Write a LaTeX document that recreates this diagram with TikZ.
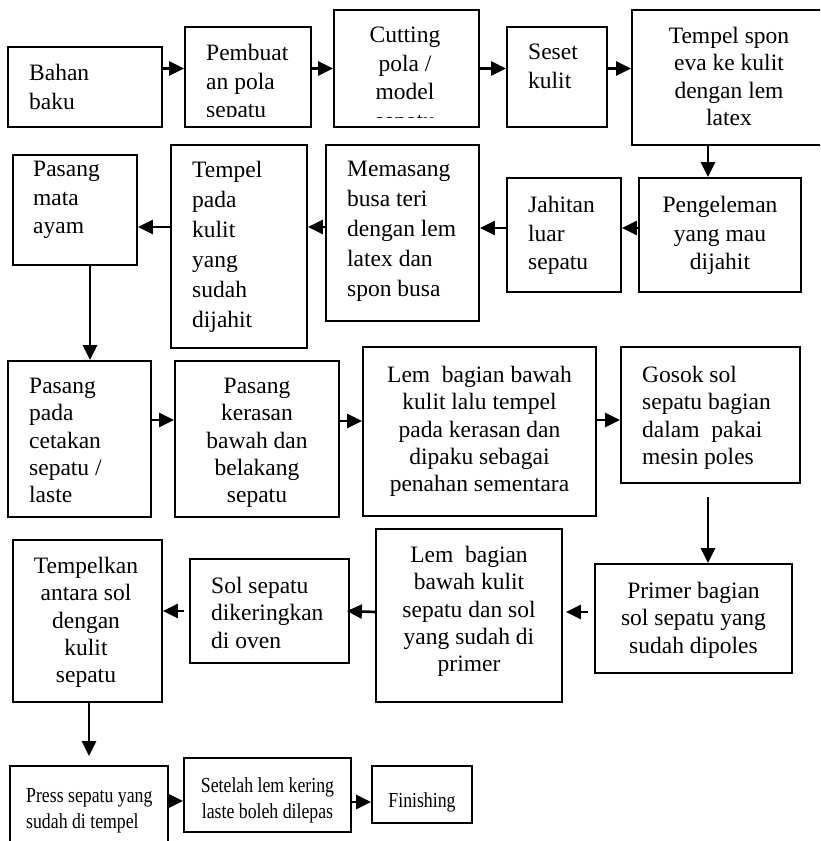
\documentclass[tikz,border=0pt]{standalone}
\usepackage{fontspec}
\setmainfont{Liberation Serif}
\newfontfamily\narrowserif[FakeStretch=0.83]{Liberation Serif}
\usetikzlibrary{arrows.meta}

\newcommand{\boxfont}{\fontsize{23.5}{28.5}\selectfont}
\newcommand{\wideline}{\fontsize{23.5}{30}\selectfont}
\newcommand{\tightline}{\fontsize{23.5}{27.3}\selectfont}
\newcommand{\narrowline}{\narrowserif\fontsize{21.4}{26.5}\selectfont}

\tikzset{
  stepbox/.style={draw, line width=1.8pt, inner sep=0pt},
  lefttext/.style={anchor=north west, align=left, inner sep=0pt, font=\boxfont},
  midtext/.style={anchor=north, align=center, inner sep=0pt, font=\boxfont},
  flow/.style={line width=2.6pt, -{Triangle[length=15pt,width=14pt]}}
}

\begin{document}
\begin{tikzpicture}[x=1pt,y=-1pt]
  \useasboundingbox (0,0) rectangle (820,841);
  \clip (0,0) rectangle (820,841);

  % row 1
  \node[stepbox, minimum width=154, minimum height=80] (bahan) at (85,87) {};
  \node[lefttext] (bahan-t) at (29,64) {Bahan\\baku};
  \node[stepbox, minimum width=126, minimum height=100] (pola) at (248,77) {};
  \begin{scope}
    \clip (pola.north west) rectangle ([yshift=11]pola.south east);
    \node[lefttext] (pola-t) at (206,44) {Pembuat\\an pola\\sepatu};
  \end{scope}
  \node[stepbox, minimum width=145, minimum height=117] (cut) at (406.5,68.5) {};
  \begin{scope}
    \clip (cut.north west) rectangle ([yshift=10]cut.south east);
    \node[midtext] (cut-t) at (405,27) {Cutting\\pola /\\model\\sepatu};
  \end{scope}
  \node[stepbox, minimum width=100, minimum height=100] (seset) at (557,77) {};
  \node[lefttext] (seset-t) at (528,44) {Seset\\kulit};
  \node[stepbox, minimum width=198, minimum height=135] (spon) at (731,77.5) {};
  \node[midtext, font=\tightline] (spon-t) at (729,27) {Tempel spon\\eva ke kulit\\dengan lem\\latex};

  % row 2
  \node[stepbox, minimum width=162, minimum height=114] (peng) at (720,235) {};
  \node[midtext] (peng-t) at (720,196) {Pengeleman\\yang mau\\dijahit};
  \node[stepbox, minimum width=114, minimum height=114] (jahit) at (564,235) {};
  \node[lefttext] (jahit-t) at (528,196) {Jahitan\\luar\\sepatu};
  \node[stepbox, minimum width=153, minimum height=176] (busa) at (402.5,233) {};
  \node[lefttext, font=\wideline] (busa-t) at (347,161) {Memasang\\busa teri\\dengan lem\\latex dan\\spon busa};
  \node[stepbox, minimum width=136, minimum height=203] (tempel) at (239,246.5) {};
  \node[lefttext, font=\wideline] (tempel-t) at (192,161) {Tempel\\pada\\kulit\\yang\\sudah\\dijahit};
  \node[stepbox, minimum width=124, minimum height=110] (mata) at (75,210) {};
  \node[lefttext] (mata-t) at (33,161) {Pasang\\mata\\ayam};

  % row 3
  \node[stepbox, minimum width=143, minimum height=156] (cetak) at (79.5,439) {};
  \node[lefttext, font=\tightline] (cetak-t) at (29,378) {Pasang\\pada\\cetakan\\sepatu /\\laste};
  \node[stepbox, minimum width=164, minimum height=156] (keras) at (257,439) {};
  \begin{scope}
    \clip (keras.north west) rectangle ([yshift=11]keras.south east);
    \node[midtext, font=\tightline] (keras-t) at (257,378) {Pasang\\kerasan\\bawah dan\\belakang\\sepatu};
  \end{scope}
  \node[stepbox, minimum width=233, minimum height=169] (paku) at (479.5,431.5) {};
  \node[midtext, font=\tightline] (paku-t) at (479.5,366) {Lem\ \ bagian bawah\\kulit lalu tempel\\pada kerasan dan\\dipaku sebagai\\penahan sementara};
  \node[stepbox, minimum width=179, minimum height=136] (gosok) at (710.5,415) {};
  \node[lefttext, font=\tightline] (gosok-t) at (642,366) {Gosok sol\\sepatu bagian\\dalam\ \ pakai\\mesin poles};

  % row 4
  \node[stepbox, minimum width=197, minimum height=109] (primer) at (693.5,618.5) {};
  \node[midtext, font=\tightline] (primer-t) at (693.5,582) {Primer bagian\\sol sepatu yang\\sudah dipoles};
  \node[stepbox, minimum width=186, minimum height=173] (lemsol) at (469,615.5) {};
  \node[midtext, font=\tightline] (lemsol-t) at (469,546) {Lem\ \ bagian\\bawah kulit\\sepatu dan sol\\yang sudah di\\primer};
  \node[stepbox, minimum width=159, minimum height=104] (oven) at (269.5,611) {};
  \node[lefttext, font=\tightline] (oven-t) at (211,577) {Sol sepatu\\dikeringkan\\di oven};
  \node[stepbox, minimum width=149, minimum height=162] (tplk) at (87.5,621) {};
  \node[midtext, font=\tightline] (tplk-t) at (86,557) {Tempelkan\\antara sol\\dengan\\kulit\\sepatu};

  % row 5
  \node[stepbox, minimum width=158, minimum height=94] (press) at (89,813) {};
  \node[lefttext, font=\narrowline] (press-t) at (26,788) {Press sepatu yang\\sudah di tempel};
  \node[stepbox, minimum width=167, minimum height=74] (setelah) at (267.5,795) {};
  \node[midtext, font=\narrowline] (setelah-t) at (267.5,777) {Setelah lem kering\\laste boleh dilepas};
  \node[stepbox, minimum width=100, minimum height=57] (finish) at (422,794.5) {};
  \node[midtext, font=\narrowline] (finish-t) at (422,792) {Finishing};

  % arrows
  \draw[flow] (bahan.east |- cut) -- (pola.west |- cut);
  \draw[flow] (pola.east |- cut) -- (cut.west);
  \draw[flow] (cut.east) -- (cut.east -| seset.west);
  \draw[flow] (seset.east |- cut) -- (spon.west |- cut);
  \draw[flow] ([xshift=-23]spon.south) -- ([xshift=-23]spon.south |- peng.north);
  \draw[flow] ([yshift=7]peng.west) -- ([yshift=7]jahit.east);
  \draw[flow] ([yshift=7]jahit.west) -- ([yshift=5]busa.east);
  \draw[flow] ([yshift=6]busa.west) -- ([yshift=19.5]tempel.east);
  \draw[flow] ([yshift=19.5]tempel.west) -- ([yshift=-17]mata.east);
  \draw[flow] ([xshift=15]mata.south) -- ([xshift=15]mata.south |- cetak.north);
  \draw[flow] ([yshift=19]cetak.east) -- ([yshift=19]keras.west);
  \draw[flow] ([yshift=18]keras.east) -- ([yshift=10.5]paku.west);
  \draw[flow] ([yshift=11.5]paku.east) -- ([yshift=-5]gosok.west);
  \draw[flow] ([xshift=-2.5,yshift=-13]gosok.south) -- ([xshift=-2.5]gosok.south |- primer.north);
  \draw[flow] ([xshift=-6,yshift=6.5]primer.west) -- ([xshift=3,yshift=3.5]lemsol.east);
  \draw[flow] ([yshift=3.5]lemsol.west) -- ([xshift=-3]oven.east);
  \draw[flow] ([xshift=-5]oven.west) -- ([yshift=10]tplk.east);
  \draw[flow] ([xshift=1.5]tplk.south) -- ([xshift=1.5,yshift=9]tplk.south |- press.north);
  \draw[flow] ([yshift=12]press.east) -- ([yshift=-6]setelah.west);
  \draw[flow] ([yshift=-7]setelah.east) -- ([yshift=-7.5]finish.west);
\end{tikzpicture}
\end{document}
